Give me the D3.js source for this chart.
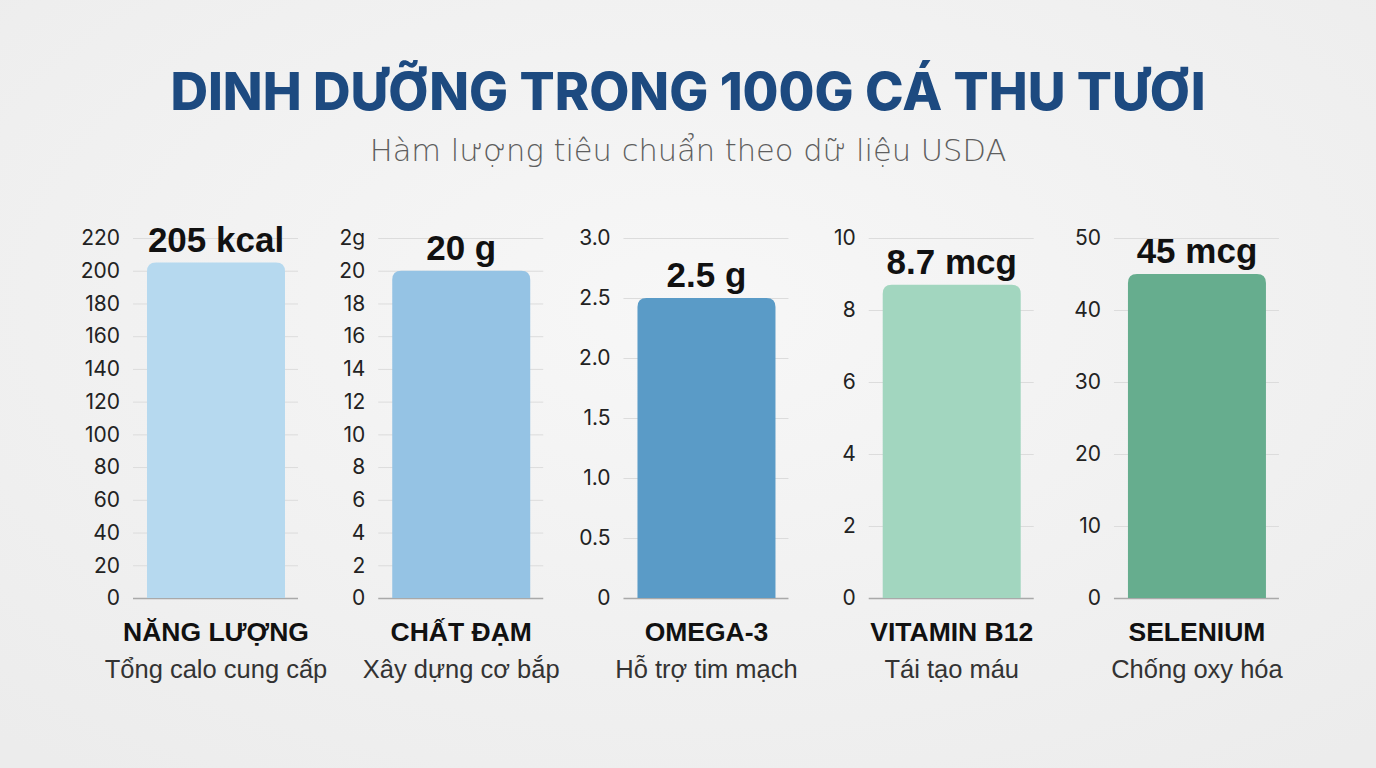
<!DOCTYPE html>
<html>
<head>
<meta charset="utf-8">
<script src="https://cdn.jsdelivr.net/npm/d3@7"></script>
<style>
  html, body { margin: 0; padding: 0; background: #f3f3f3; }
  svg { display: block; }
</style>
</head>
<body>
<svg id="chart" width="1376" height="768"></svg>
<script>
const nutrients = ["NĂNG LƯỢNG", "CHẤT ĐẠM", "OMEGA-3", "VITAMIN B12", "SELENIUM"];
const descriptions = ["Tổng calo cung cấp", "Xây dựng cơ bắp", "Hỗ trợ tim mạch", "Tái tạo máu", "Chống oxy hóa"];
const values = [205, 20, 2.5, 8.7, 45];
const valueLabels = ["205 kcal", "20 g", "2.5 g", "8.7 mcg", "45 mcg"];
const axisMax = [220, 22, 3, 10, 50];
const tickValues = [
  [0, 20, 40, 60, 80, 100, 120, 140, 160, 180, 200, 220],
  [0, 2, 4, 6, 8, 10, 12, 14, 16, 18, 20, 22],
  [0, 0.5, 1, 1.5, 2, 2.5, 3],
  [0, 2, 4, 6, 8, 10],
  [0, 10, 20, 30, 40, 50]
];
const tickLabels = [
  ["0", "20", "40", "60", "80", "100", "120", "140", "160", "180", "200", "220"],
  ["0", "2", "4", "6", "8", "10", "12", "14", "16", "18", "20", "2g"],
  ["0", "0.5", "1.0", "1.5", "2.0", "2.5", "3.0"],
  ["0", "2", "4", "6", "8", "10"],
  ["0", "10", "20", "30", "40", "50"]
];
const colors = ["#b6d9ef", "#95c3e4", "#5a9bc7", "#a2d6bf", "#66ad8e"];

const svg = d3.select("#chart");
const W = 1376, H = 768;

// background with soft texture
const defs = svg.append("defs");
const bg = defs.append("radialGradient").attr("id", "bg").attr("cx", "50%").attr("cy", "40%").attr("r", "75%");
bg.append("stop").attr("offset", "0%").attr("stop-color", "#f7f7f7");
bg.append("stop").attr("offset", "100%").attr("stop-color", "#ececec");
svg.append("rect").attr("width", W).attr("height", H).attr("fill", "url(#bg)");

// title
svg.append("text")
  .attr("x", W / 2).attr("y", 110)
  .attr("text-anchor", "middle")
  .style("font-family", "Inter, 'Open Sans', sans-serif")
  .style("font-weight", 800)
  .style("font-size", "52px")
  .style("fill", "#1d4a80")
  .text("DINH DƯỠNG TRONG 100G CÁ THU TƯƠI");

svg.append("text")
  .attr("x", W / 2).attr("y", 161)
  .attr("text-anchor", "middle")
  .style("font-family", "'DejaVu Sans', 'Open Sans', sans-serif")
  .style("font-weight", 200)
  .style("font-size", "30.5px")
  .style("fill", "#5e5e5e")
  .text("Hàm lượng tiêu chuẩn theo dữ liệu USDA");

const y0 = 598, y1 = 238;
const panelW = 165, barX = 14, barW = 138;

const px = d3.scaleBand()
  .domain(nutrients)
  .range([133, 1279])
  .paddingInner(0.327);

function topRounded(x, y, w, h, r) {
  r = Math.min(r, h);
  return `M${x},${y + h}V${y + r}Q${x},${y} ${x + r},${y}H${x + w - r}Q${x + w},${y} ${x + w},${y + r}V${y + h}Z`;
}

nutrients.forEach((name, i) => {
  const g = svg.append("g").attr("transform", `translate(${px(name)},0)`);
  const y = d3.scaleLinear().domain([0, axisMax[i]]).range([y0, y1]);

  // gridlines
  const grid = g.append("g")
    .call(d3.axisRight(y).tickValues(tickValues[i]).tickSize(panelW).tickFormat(""));
  grid.select(".domain").remove();
  grid.selectAll(".tick line")
    .attr("stroke", d => d === 0 ? "#a9a9a9" : "#dcdcdc")
    .attr("stroke-width", d => d === 0 ? 1.5 : 1);

  // tick labels
  const ax = g.append("g")
    .call(d3.axisLeft(y).tickValues(tickValues[i]).tickSize(0).tickPadding(13)
      .tickFormat((d, k) => tickLabels[i][k]));
  ax.select(".domain").remove();
  ax.selectAll(".tick text")
    .style("font-family", "Inter, 'Liberation Sans', sans-serif")
    .style("font-size", "21px")
    .style("fill", "#222");

  // bar
  const v = values[i];
  g.append("path")
    .attr("d", topRounded(barX, y(v), barW, y0 - y(v), 9))
    .attr("fill", colors[i]);

  // value label
  g.append("text")
    .attr("x", barX + barW / 2).attr("y", y(v) - 11)
    .attr("text-anchor", "middle")
    .style("font-family", "'Liberation Sans', Arial, sans-serif")
    .style("font-weight", "bold")
    .style("font-size", "35px")
    .style("fill", "#111")
    .text(valueLabels[i]);

  // category & description
  g.append("text")
    .attr("x", barX + barW / 2).attr("y", 641)
    .attr("text-anchor", "middle")
    .style("font-family", "'Liberation Sans', Arial, sans-serif")
    .style("font-weight", "bold")
    .style("font-size", "26.5px")
    .style("fill", "#111")
    .text(name);

  g.append("text")
    .attr("x", barX + barW / 2).attr("y", 678)
    .attr("text-anchor", "middle")
    .style("font-family", "'Liberation Sans', Arial, sans-serif")
    .style("font-size", "25.5px")
    .style("fill", "#333")
    .text(descriptions[i]);
});
</script>
</body>
</html>
